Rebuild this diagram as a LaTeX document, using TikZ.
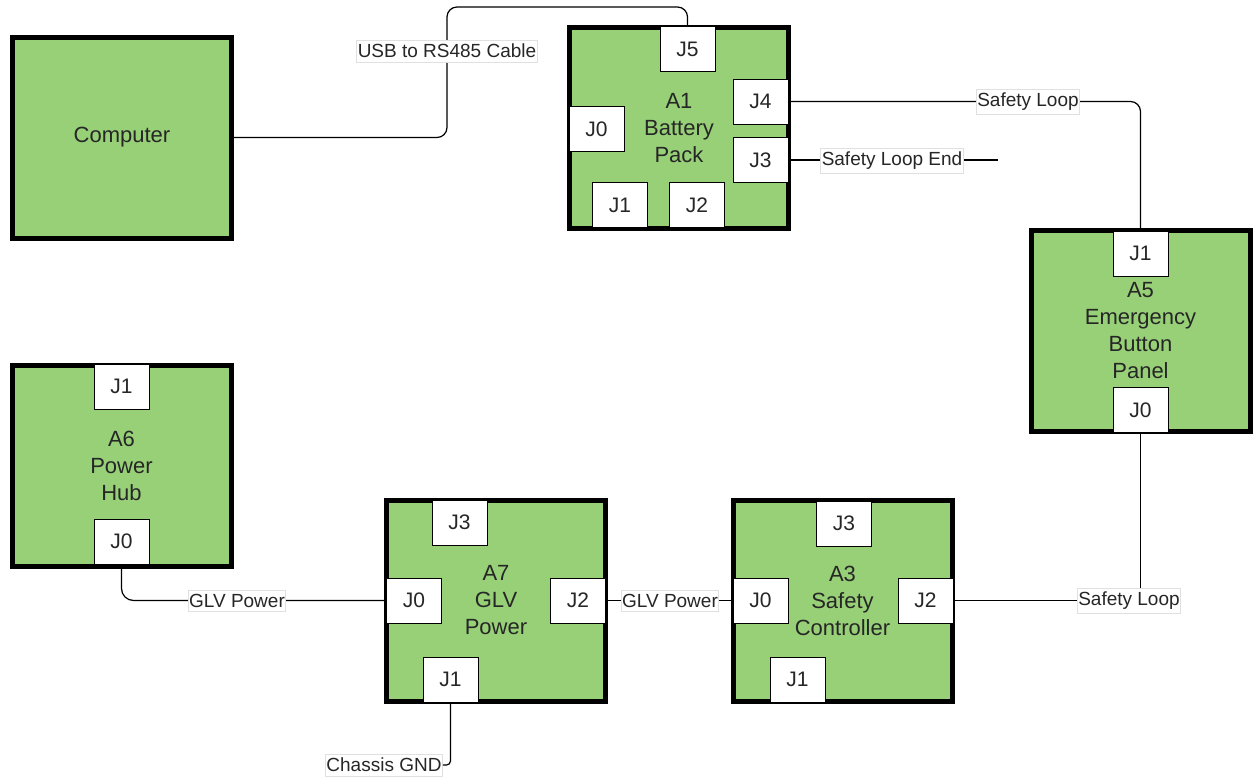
\documentclass[tikz,border=0pt]{standalone}
\usepackage{fontspec}
\setmainfont{Liberation Sans}
\usepackage{tikz}
\definecolor{boardgreen}{HTML}{97D077}

\begin{document}
\begin{tikzpicture}[x=0.5pt, y=-0.5pt,
    module/.style={draw=black, line width=2.5pt, fill=boardgreen, minimum width=109.5pt, minimum height=100.5pt, align=center, text=black!85, font=\fontsize{11}{13.5}\selectfont},
    jack/.style={draw=black, line width=0.5pt, fill=white, minimum width=27.5pt, minimum height=22.5pt, text=black!85, font=\fontsize{10.5}{12}\selectfont},
    wire/.style={line width=0.6pt},
    tag/.style={draw=black!12, line width=0.4pt, fill=white, inner xsep=0.5pt, inner ysep=2pt, text=black!85, font=\fontsize{9.5}{11}\selectfont}]
    \useasboundingbox (0,0) rectangle (1254,778);
    % Modules
    \node[module] (cmp) at (122,137.5) {Computer};
    \node[module] (a1) at (679,128) {A1\\Battery\\Pack};
    \node[module] (a5) at (1140.5,330.5) {A5\\Emergency\\Button\\Panel};
    \node[module] (a6) at (121.5,465.5) {A6\\Power\\Hub};
    \node[module] (a7) at (496,600.5) {A7\\GLV\\Power};
    \node[module] (a3) at (842.5,600.5) {A3\\Safety\\Controller};
    % Connectors
    \node[jack] (a1j5) at (687.5,49) {J5};
    \node[jack] (a1j0) at (596.5,129) {J0};
    \node[jack] (a1j4) at (760.5,101.5) {J4};
    \node[jack] (a1j3) at (760.5,160) {J3};
    \node[jack] (a1j1) at (620,205) {J1};
    \node[jack] (a1j2) at (697,205) {J2};
    \node[jack] (a5j1) at (1140.5,253.5) {J1};
    \node[jack] (a5j0) at (1140.5,410) {J0};
    \node[jack] (a6j1) at (121.5,386.5) {J1};
    \node[jack] (a6j0) at (121.5,541.5) {J0};
    \node[jack] (a7j3) at (459.5,522.5) {J3};
    \node[jack] (a7j0) at (414,600.5) {J0};
    \node[jack] (a7j2) at (578,600.5) {J2};
    \node[jack] (a7j1) at (450.5,679.5) {J1};
    \node[jack] (a3j3) at (844,523.5) {J3};
    \node[jack] (a3j0) at (760.5,600.5) {J0};
    \node[jack] (a3j2) at (925.5,600.5) {J2};
    \node[jack] (a3j1) at (797.5,679.5) {J1};
    % Free ends
    \coordinate (usbtop) at (447,7);
    \coordinate (loopend) at (998,160);
    % Cables
    \draw[wire, rounded corners=5pt] (cmp.east) -| (usbtop) -| (a1j5.north);
    \draw[wire, rounded corners=5pt] (a1j4.east) -| (a5j1.north);
    \draw[wire] (a1j3.east) -- (loopend);
    \draw[wire] (a5j0.south) |- (a3j2.east);
    \draw[wire, rounded corners=6pt] (a6j0.south) |- (a7j0.west);
    \draw[wire] (a7j2.east) -- (a3j0.west);
    % Cable labels
    \node[tag] (usb) at (447,51) {USB to RS485 Cable};
    \node[tag] (loopa) at (1028,102) {Safety Loop};
    \node[tag] (endtag) at (892,161) {Safety Loop End};
    \node[tag] (loopb) at (1129,601) {Safety Loop};
    \node[tag] (glva) at (237,601) {GLV Power};
    \node[tag] (glvb) at (670,601) {GLV Power};
    \node[tag] (gnd) at (384,765) {Chassis GND};
    \draw[wire, rounded corners=2pt] (a7j1.south) |- (gnd.east);
\end{tikzpicture}
\end{document}
